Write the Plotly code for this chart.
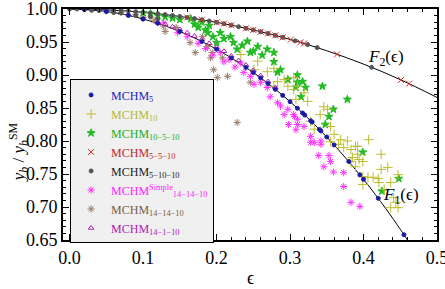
import plotly.graph_objects as go

# ---------------- data ----------------
f1_eps = [0.0, 0.05, 0.1, 0.15, 0.2, 0.25, 0.3, 0.35, 0.4, 0.43, 0.45, 0.46, 0.47]
f1_val = [1.0, 0.99625, 0.9849, 0.9659, 0.939, 0.9037, 0.8596, 0.806, 0.7419, 0.698, 0.6663, 0.6496, 0.6324]
f2_eps = [0.0, 0.05, 0.1, 0.15, 0.2, 0.25, 0.3, 0.35, 0.4, 0.45, 0.5]
f2_val = [1.0, 0.99875, 0.99499, 0.98869, 0.9798, 0.96825, 0.95394, 0.93675, 0.91652, 0.89303, 0.86603]

mchm5_eps = [0.02, 0.05, 0.08, 0.1, 0.12, 0.15, 0.18, 0.2, 0.22, 0.24, 0.25, 0.26, 0.27, 0.28, 0.29, 0.3,
             0.31, 0.317, 0.32, 0.328, 0.33, 0.34, 0.342, 0.35, 0.36, 0.38, 0.395, 0.4, 0.42, 0.455]
mchm5_y = [0.9994, 0.99625, 0.9904, 0.9849, 0.9783, 0.9659, 0.9507, 0.939, 0.9259, 0.9115, 0.9037, 0.8956,
           0.8871, 0.8783, 0.8691, 0.8596, 0.8497, 0.8425, 0.8393, 0.8308, 0.8286, 0.8175, 0.8152, 0.806,
           0.794, 0.7689, 0.7488, 0.7419, 0.7132, 0.658]

mchm10_eps = [0.233, 0.251, 0.256, 0.269, 0.278, 0.283, 0.292, 0.278, 0.297, 0.305, 0.31, 0.305, 0.308,
              0.319, 0.324, 0.346, 0.351, 0.341, 0.328, 0.333, 0.355, 0.36, 0.369, 0.378, 0.392, 0.407,
              0.355, 0.366, 0.373, 0.383, 0.389, 0.392, 0.385, 0.394, 0.399, 0.383, 0.389, 0.424, 0.433,
              0.424, 0.399, 0.406, 0.413, 0.42, 0.421, 0.399, 0.437, 0.447, 0.441, 0.444, 0.447, 0.437, 0.428]
mchm10_y = [0.931, 0.908, 0.921, 0.905, 0.91, 0.89, 0.893, 0.883, 0.883, 0.878, 0.883, 0.896, 0.863,
            0.873, 0.86, 0.852, 0.848, 0.84, 0.83, 0.818, 0.822, 0.81, 0.802, 0.8, 0.792, 0.802,
            0.799, 0.795, 0.79, 0.787, 0.792, 0.78, 0.775, 0.772, 0.769, 0.769, 0.761, 0.78, 0.76,
            0.757, 0.746, 0.745, 0.745, 0.743, 0.737, 0.734, 0.737, 0.749, 0.714, 0.707, 0.699, 0.699, 0.727]

m10510_eps = [0.1, 0.11, 0.12, 0.13, 0.14, 0.15, 0.165, 0.17, 0.175, 0.18, 0.185, 0.188, 0.19, 0.195, 0.2,
              0.205, 0.21, 0.219, 0.223, 0.228, 0.235, 0.242, 0.246, 0.25, 0.256, 0.262, 0.269, 0.278,
              0.278, 0.283, 0.287, 0.297, 0.31, 0.308, 0.31, 0.317, 0.321, 0.315, 0.344, 0.348, 0.353,
              0.359, 0.378, 0.399, 0.425, 0.448]
m10510_y = [0.994, 0.993, 0.99, 0.988, 0.986, 0.984, 0.985, 0.977, 0.972, 0.98, 0.968, 0.964, 0.975, 0.958,
            0.949, 0.964, 0.955, 0.958, 0.949, 0.939, 0.945, 0.951, 0.934, 0.936, 0.943, 0.93, 0.939, 0.934,
            0.92, 0.904, 0.908, 0.893, 0.9, 0.881, 0.889, 0.89, 0.881, 0.867, 0.883, 0.825, 0.837,
            0.848, 0.863, 0.783, 0.724, 0.743]

m5510_eps = [0.16, 0.18, 0.2, 0.21, 0.22, 0.24, 0.25, 0.26, 0.27, 0.28, 0.29, 0.301, 0.314, 0.319, 0.364, 0.451, 0.462]
m5510_y = [0.98712, 0.98367, 0.9798, 0.9777, 0.9755, 0.97077, 0.96825, 0.96561, 0.96286, 0.96, 0.95703,
           0.95362, 0.94942, 0.94776, 0.9314, 0.89253, 0.88688]

m51010_eps = [0.0, 0.01, 0.02, 0.03, 0.04, 0.05, 0.06, 0.07, 0.08, 0.09, 0.1, 0.11, 0.12, 0.13, 0.14, 0.15,
              0.16, 0.17, 0.18, 0.19, 0.2, 0.21, 0.22, 0.23, 0.24, 0.25, 0.26, 0.27, 0.28, 0.29, 0.307,
              0.324, 0.337, 0.411, 0.02, 0.04, 0.06, 0.08, 0.1, 0.03, 0.05, 0.07, 0.09, 0.11, 0.12]
m51010_y = [1.0, 0.99995, 0.9998, 0.99955, 0.9992, 0.99875, 0.9982, 0.99755, 0.9968, 0.99594, 0.99499,
            0.99393, 0.99277, 0.99151, 0.99015, 0.98869, 0.98712, 0.98544, 0.98367, 0.98178, 0.9798,
            0.9777, 0.9755, 0.9732, 0.97077, 0.96825, 0.96561, 0.96286, 0.96, 0.95703, 0.95172,
            0.94606, 0.9415, 0.91163, 0.9994, 0.9976, 0.9946, 0.9904, 0.9849, 0.998, 0.997, 0.994,
            0.99, 0.988, 0.985]

simple_eps = [0.128, 0.147, 0.16, 0.175, 0.185, 0.195, 0.205, 0.21, 0.217, 0.225, 0.233, 0.237, 0.246, 0.251,
              0.26, 0.269, 0.273, 0.283, 0.287, 0.292, 0.297, 0.298, 0.305, 0.306, 0.308, 0.31, 0.31,
              0.319, 0.328, 0.328, 0.333, 0.342, 0.342, 0.339, 0.353, 0.355, 0.346, 0.359, 0.373, 0.373,
              0.383, 0.395]
simple_y = [0.979, 0.964, 0.958, 0.948, 0.94, 0.93, 0.934, 0.92, 0.923, 0.912, 0.918, 0.904, 0.898, 0.886,
            0.889, 0.881, 0.867, 0.858, 0.853, 0.84, 0.848, 0.825, 0.84, 0.837, 0.817, 0.825, 0.833,
            0.822, 0.807, 0.798, 0.798, 0.8, 0.795, 0.778, 0.778, 0.769, 0.761, 0.753, 0.752, 0.731,
            0.707, 0.701]

m141410_eps = [0.05, 0.07, 0.09, 0.1, 0.115, 0.128, 0.13, 0.145, 0.164, 0.171, 0.181, 0.188, 0.192, 0.194,
               0.196, 0.201, 0.208, 0.215, 0.228, 0.246]
m141410_y = [0.997, 0.995, 0.992, 0.987, 0.983, 0.974, 0.966, 0.972, 0.949, 0.934, 0.958, 0.943, 0.926,
             0.934, 0.908, 0.896, 0.926, 0.898, 0.828, 0.889]

m14110_eps = [0.12, 0.13, 0.14, 0.15, 0.16, 0.17, 0.18, 0.19, 0.2, 0.21, 0.22, 0.23, 0.24, 0.25, 0.26, 0.27, 0.28]
m14110_y = [0.9795, 0.977, 0.973, 0.969, 0.964, 0.959, 0.954, 0.948, 0.942, 0.936, 0.929, 0.922, 0.915,
            0.907, 0.899, 0.89, 0.881]

x_ticks = [0.0, 0.1, 0.2, 0.3, 0.4, 0.5]
y_ticks = [0.65, 0.70, 0.75, 0.80, 0.85, 0.90, 0.95, 1.00]

# ---------------- figure ----------------
SERIF = "Liberation Serif"
fig = go.Figure()

fig.add_trace(go.Scatter(x=f1_eps, y=f1_val, mode="lines", line=dict(color="black", width=1, shape="spline"),
                         showlegend=False, hoverinfo="skip"))
fig.add_trace(go.Scatter(x=f2_eps, y=f2_val, mode="lines", line=dict(color="black", width=1, shape="spline"),
                         showlegend=False, hoverinfo="skip"))


def lab(color, main, sub, sup=None):
    s = f"<span style='color:{color}'>{main}</span>"
    if sup:
        s += f"<sup><span style='color:{color}'>{sup}</span></sup>"
    s += f"<sub><span style='color:{color}'>{sub}</span></sub>"
    return s


series = [
    (m141410_eps, m141410_y, "#9a7c68", "asterisk-open", 6, lab("#7b5c40", "MCHM", "14−14−10")),
    (simple_eps, simple_y, "#ff33ff", "asterisk-open", 6, lab("#ff22ff", "MCHM", "14−14−10", "Simple")),
    (m10510_eps, m10510_y, "#22bb22", "star", 6, lab("#22b022", "MCHM", "10−5−10")),
    (mchm10_eps, mchm10_y, "#bdbd30", "cross-thin-open", 7, lab("#b8b830", "MCHM", "10")),
    (m14110_eps, m14110_y, "#b020b0", "triangle-up-open", 5, lab("#b020b0", "MCHM", "14−1−10")),
    (m51010_eps, m51010_y, "#555555", "circle", 4, lab("#222222", "MCHM", "5−10−10")),
    (m5510_eps, m5510_y, "#d03030", "x-thin-open", 6, lab("#c02828", "MCHM", "5−5−10")),
    (mchm5_eps, mchm5_y, "#1a1aa8", "circle", 4, lab("#2222c0", "MCHM", "5")),
]
order = [7, 3, 2, 6, 5, 1, 0, 4]
for i, (xs, ys, col, sym, size, name) in enumerate(series):
    fig.add_trace(go.Scatter(
        x=xs, y=ys, mode="markers", name=name,
        marker=dict(color=col, symbol=sym, size=size, line=dict(color=col, width=1)),
        legendrank=order.index(i) + 1,
    ))

fig.add_annotation(x=0.43, y=0.926, text="<i>F</i><sub>2</sub>(ϵ)", showarrow=False,
                   font=dict(family=SERIF, size=17, color="black"))
fig.add_annotation(x=0.451, y=0.716, text="<i>F</i><sub>1</sub>(ϵ)", showarrow=False,
                   font=dict(family=SERIF, size=17, color="black"))
# axis titles
fig.add_annotation(xref="paper", yref="paper", x=0.5, y=-0.165, text="ϵ", showarrow=False,
                   yanchor="middle", font=dict(family=SERIF, size=18, color="black"))
fig.add_annotation(xref="paper", yref="paper", x=-0.12, y=0.38, textangle=-90, showarrow=False,
                   text="<i>y<sub>b</sub></i> / <i>y<sub>b</sub></i><sup>SM</sup>",
                   xanchor="center", yanchor="middle", font=dict(family=SERIF, size=17, color="black"))

axis_common = dict(showgrid=False, zeroline=False, showline=True, linecolor="black", linewidth=2,
                   mirror="allticks", ticks="inside", ticklen=6, tickcolor="black", tickwidth=1,
                   automargin=False, ticklabeloverflow="allow",
                   tickfont=dict(family=SERIF, size=18, color="black"))

fig.update_xaxes(range=[-0.009, 0.5], tickvals=x_ticks, tickformat=".1f",
                 minor=dict(dtick=0.02, ticks="inside", ticklen=3, tickcolor="black"),
                 **axis_common)
fig.update_yaxes(range=[0.65, 1.0], tickvals=y_ticks, tickformat=".2f",
                 minor=dict(dtick=0.01, ticks="inside", ticklen=3, tickcolor="black"),
                 **axis_common)

fig.update_layout(
    width=445, height=289,
    margin=dict(l=63, r=8, t=9, b=49, autoexpand=False),
    paper_bgcolor="white", plot_bgcolor="white",
    legend=dict(x=0.019, y=0.695, xanchor="left", yanchor="top", bgcolor="#f0f0f0",
                bordercolor="black", borderwidth=1, font=dict(family=SERIF, size=12),
                itemsizing="trace", tracegroupgap=0, itemwidth=30),
)

# remove the default page margin so the figure sits at the window's top-left corner
fig.write_html("out.html", config={"displayModeBar": False},
               post_script="document.body.style.margin='0';")
